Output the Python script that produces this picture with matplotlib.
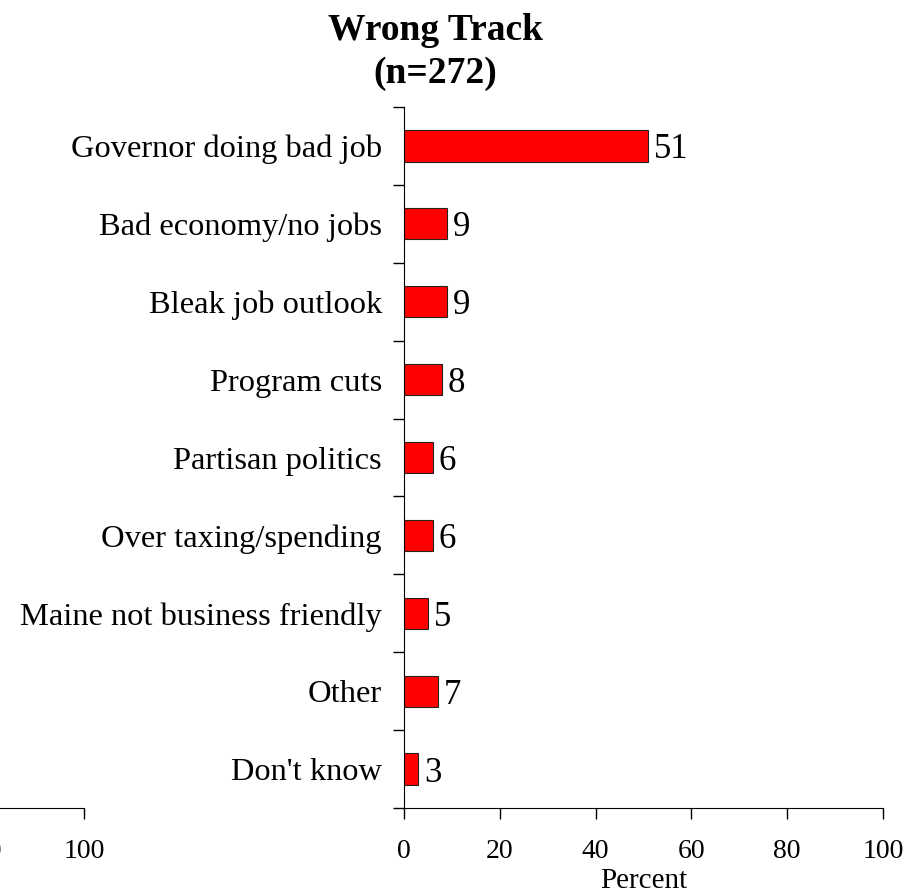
import numpy as np
import matplotlib.pyplot as plt

plt.rcParams['font.family'] = ['Liberation Serif', 'DejaVu Serif']

# Datos
categorias = ['Governor doing bad job', 'Bad economy/no jobs', 'Bleak job outlook',
              'Program cuts', 'Partisan politics', 'Over taxing/spending',
              'Maine not business friendly', 'Other', "Don't know"]
valores = [51, 9, 9, 8, 6, 6, 5, 7, 3]
ticks_x = [0, 20, 40, 60, 80, 100]

fig = plt.figure(figsize=(9.19, 8.89), dpi=100)

# Panel principal
ax = fig.add_axes([404 / 919, 1 - 808 / 889, 479 / 919, 701 / 889])
pos = np.arange(len(categorias))
ax.barh(pos, valores, height=0.4, color='#ff0000', edgecolor='#222222', linewidth=0.8)
for p, v in zip(pos, valores):
    ax.text(v + 1.2, p, str(v), va='center_baseline', ha='left', fontsize=25)

ax.set_ylim(len(categorias) - 0.5, -0.5)
ax.set_xlim(0, 100)
ax.set_yticks(pos)
ax.set_yticklabels(categorias, fontsize=23.4)
ax.set_yticks(np.arange(len(categorias) + 1) - 0.5, minor=True)
ax.tick_params(axis='y', which='major', length=0, pad=16)
ax.tick_params(axis='y', which='minor', length=8, width=1)
ax.set_xticks(ticks_x)
ax.tick_params(axis='x', length=8, width=1, labelsize=20, pad=14)
ax.set_xlabel('Percent', fontsize=21, labelpad=3)
for s in ['top', 'right']:
    ax.spines[s].set_visible(False)

# Panel izquierdo (recortado)
ax2 = fig.add_axes([84 / 919 - 479 / 919, 1 - 808 / 889, 479 / 919, 701 / 889])
ax2.set_xlim(0, 100)
ax2.set_xticks(ticks_x)
ax2.tick_params(axis='x', length=8, width=1, labelsize=20, pad=14)
ax2.set_yticks([])
for s in ['top', 'right', 'left']:
    ax2.spines[s].set_visible(False)
ax2.patch.set_visible(False)

# Titulo
fig.text(435 / 919, 1 - 52 / 889, 'Wrong Track\n(n=272)', ha='center', va='center',
         fontsize=27, fontweight='bold', linespacing=1.32)

fig.savefig('out.png', dpi=100)
